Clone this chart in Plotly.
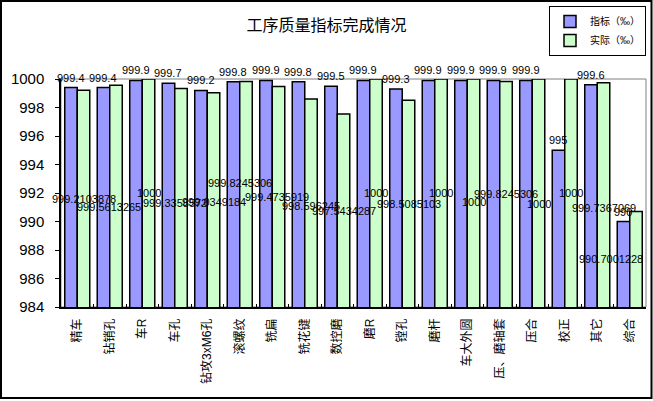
import plotly.graph_objects as go

categories = ["精车", "钻销孔", "车R", "车孔", "钻攻3xM6孔", "滚螺纹", "铣扁", "铣花键", "数控磨",
              "磨R", "镗孔", "磨杆", "车大外圆", "压、磨轴套", "压合", "校正", "其它", "综合"]
target = [999.4, 999.4, 999.9, 999.7, 999.2, 999.8, 999.9, 999.8, 999.5,
          999.9, 999.3, 999.9, 999.9, 999.9, 999.9, 995, 999.6, 990]
actual = [999.2103878, 999.5613265, 1000, 999.3358572, 999.0349184, 999.8245306, 999.4735919,
          998.596245, 997.5434287, 1000, 998.5085103, 1000, 1000, 999.8245306, 1000, 1000,
          999.7367069, 990.7001228]

# label nudges in pixels (the excel labels were dragged a bit)
actual_dy = [0, 11, 0, 5, 2, -11, 0, 3, 0, 0, 0, 0, 9, 0, 11, 0, 13, 0]
actual_dx = [0, -7, 0, -6, 0, -6, -2, 0, 0, 0, 0, 0, 0, 0, 0, 0, 0, -25]

W, H = 653, 401
L, R, T, B = 61, 7, 79, 94
pw, ph = W - L - R, H - T - B
y_min, y_max = 984, 1000
gap = 0.23
off = (1 - gap) / 4

FONT = "Liberation Sans, Noto Sans CJK SC, sans-serif"

fig = go.Figure()
fig.add_trace(go.Bar(name="指标（‰）", x=categories, y=target,
                     marker=dict(color="#9999FF", line=dict(color="black", width=1.5))))
fig.add_trace(go.Bar(name="实际（‰）", x=categories, y=actual,
                     marker=dict(color="#CCFFCC", line=dict(color="black", width=1.5))))

ann = []
for i, v in enumerate(target):
    ann.append(dict(x=i - off, y=v, text=f"{v:g}", showarrow=False, yanchor="bottom",
                    yshift=2, font=dict(size=11, color="black", family=FONT)))
for i, v in enumerate(actual):
    ann.append(dict(x=i + off, y=(y_min + v) / 2, text=f"{v:.10g}", showarrow=False,
                    yanchor="middle", yshift=-actual_dy[i], xshift=actual_dx[i],
                    font=dict(size=11, color="black", family=FONT)))

shapes = [
    # plot area frame (grey top / right)
    dict(type="rect", xref="paper", yref="paper", x0=0, x1=1, y0=0, y1=1,
         line=dict(color="#808080", width=1), layer="below"),
    # chart border
    dict(type="rect", xref="paper", yref="paper",
         x0=-(L - 1) / pw, x1=(W - L - 1.5) / pw, y0=-(B - 3) / ph, y1=(ph + T - 1) / ph,
         line=dict(color="black", width=2)),
]

fig.update_layout(
    width=W, height=H,
    margin=dict(l=L, r=R, t=T, b=B, autoexpand=False),
    paper_bgcolor="white", plot_bgcolor="white",
    barmode="group", bargap=gap, bargroupgap=0,
    font=dict(family=FONT, color="black"),
    title=dict(text="工序质量指标完成情况", x=0.5, xref="container", y=1 - 25 / H,
               yanchor="middle", font=dict(size=16, family=FONT)),
    legend=dict(x=1, xanchor="right", y=(ph + T - 6) / ph, yanchor="top",
                bordercolor="black", borderwidth=1, bgcolor="white",
                font=dict(size=10, family=FONT), tracegroupgap=0, itemwidth=30),
    showlegend=True,
    annotations=ann,
    shapes=shapes,
)
# fixed x range, otherwise the label annotations widen the autorange
fig.update_xaxes(type="category", range=[-0.5, len(categories) - 0.5], tickangle=-90,
                 showline=True, linecolor="black", linewidth=1.5,
                 ticks="inside", ticklen=3, tickcolor="black", tickson="boundaries",
                 tickfont=dict(size=12, family=FONT), showgrid=False, ticklabelstandoff=5,
                 automargin=False)
fig.update_yaxes(range=[y_min, y_max], dtick=2, showline=True, linecolor="black", linewidth=1.5,
                 ticks="outside", ticklen=4, tickcolor="black", showgrid=False, zeroline=False,
                 tickfont=dict(size=15, family=FONT), ticklabelstandoff=8, automargin=False)

# the page body has an 8px margin by default, drop it so the figure sits at 0,0
fig.write_html("out.html", config={"displayModeBar": False},
               post_script="document.body.style.margin='0';")
